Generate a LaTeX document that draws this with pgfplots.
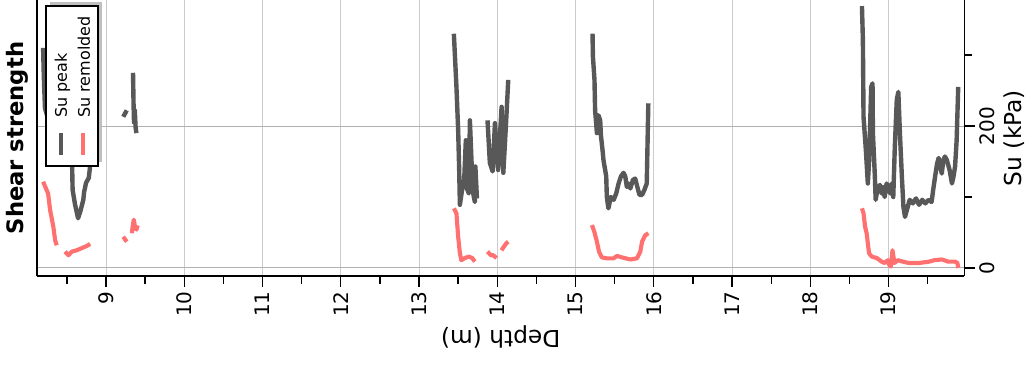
\documentclass[border=0pt]{standalone}
\usepackage{pgfplots}
\pgfplotsset{compat=1.18}
\usepackage{fontspec}
\setmainfont{DejaVu Sans}
\definecolor{peak}{RGB}{88,88,88}
\definecolor{remold}{RGB}{255,112,112}
\definecolor{hgrid}{RGB}{176,176,176}
\definecolor{vgrid}{RGB}{204,204,204}
\begin{document}
\begin{tikzpicture}
\begin{axis}[
  name=ax,
  scale only axis,
  width=695.6pt, height=207pt,
  xmin=8.118, xmax=19.97,
  ymin=-11.3, ymax=377.5,
  axis x line*=bottom, axis y line*=right,
  axis line style={line width=1.1pt, black},
  xtick={9,10,...,19},
  minor xtick={8.5,9.5,...,19.5},
  ytick={0,200},
  minor ytick={100,300},
  tick align=outside,
  major tick length=8pt, minor tick length=6pt,
  every tick/.style={black, line width=1pt},
  xmajorgrids, ymajorgrids,
  x grid style={vgrid, line width=0.75pt},
  y grid style={hgrid, line width=0.75pt},
  /pgf/number format/assume math mode=true,
  ticklabel style={font=\fontsize{15}{18}\selectfont},
  xticklabel style={rotate=90, anchor=east},
  yticklabel style={rotate=90, anchor=north},
  xlabel={Depth (m)}, ylabel={Su (kPa)},
  label style={font=\fontsize{17.5}{20}\selectfont},
  xlabel style={rotate=180},
  unbounded coords=jump,
]
\addplot[peak, line width=3.3pt, line join=round] coordinates {
(8.196,310) (8.205,270) (8.22,225) (8.30,195) (8.42,165) (8.54,148) (8.567,144) (8.573,110) (8.605,89) (8.643,70) (8.67,79) (8.71,96) (8.72,107) (8.745,120) (8.78,127) (8.797,144) (8.81,170)
(9.0,nan)
(9.22,213) (9.265,222)
(9.3,nan)
(9.345,275) (9.352,230) (9.358,205) (9.368,222) (9.378,198) (9.388,190)
(10,nan)
(13.445,330) (13.478,255) (13.50,194) (13.513,138) (13.522,89) (13.55,110) (13.577,124) (13.598,180) (13.605,114) (13.636,105) (13.65,208) (13.67,152) (13.692,105) (13.713,93) (13.72,143) (13.74,98)
(13.8,nan)
(13.875,208) (13.905,148) (13.94,136) (13.97,204) (14.01,138) (14.055,227) (14.077,134) (14.11,200) (14.14,265)
(14.5,nan)
(15.217,330) (15.222,298) (15.242,265) (15.25,222) (15.273,190) (15.294,215) (15.315,208) (15.324,187) (15.345,166) (15.357,152) (15.392,129) (15.40,100) (15.42,84) (15.45,100) (15.487,96) (15.52,105) (15.55,119) (15.58,129) (15.613,134) (15.635,129) (15.656,114) (15.677,119) (15.70,112) (15.733,124) (15.762,126) (15.79,114) (15.817,103) (15.85,103) (15.88,110) (15.91,119) (15.93,232)
(17,nan)
(18.66,369) (18.672,321) (18.68,213) (18.71,166) (18.735,119) (18.752,152) (18.778,255) (18.795,260) (18.80,190) (18.825,129) (18.835,96) (18.86,112) (18.89,117) (18.91,105) (18.93,114) (18.95,100) (18.975,119) (19.0,114) (19.02,105) (19.04,119) (19.06,100) (19.08,171) (19.105,237) (19.125,248) (19.145,190) (19.17,129) (19.19,86) (19.21,72) (19.27,96) (19.31,91) (19.35,98) (19.39,89) (19.43,96) (19.47,91) (19.51,96) (19.55,93) (19.57,110) (19.595,129) (19.62,147) (19.64,155) (19.66,143) (19.68,133) (19.70,152) (19.72,157) (19.745,152) (19.78,138) (19.81,119) (19.83,129) (19.85,143) (19.87,180) (19.89,255)
};
\addplot[remold, line width=3.1pt, line join=round] coordinates {
(8.196,121.5) (8.26,105) (8.285,82) (8.327,58) (8.35,39) (8.37,32)
(8.42,nan)
(8.477,23) (8.52,18) (8.563,23) (8.627,25) (8.69,28) (8.755,31) (8.797,34)
(9.0,nan)
(9.22,44) (9.245,40) (9.265,37)
(9.3,nan)
(9.33,49) (9.345,62) (9.355,68) (9.37,58) (9.39,54) (9.405,60)
(10,nan)
(13.445,84) (13.478,77) (13.50,44) (13.522,21) (13.54,11) (13.585,14) (13.636,16) (13.68,14) (13.713,9)
(13.8,nan)
(13.875,23) (13.918,18) (13.947,18) (13.99,14)
(14.02,nan)
(14.053,25) (14.084,30) (14.117,35) (14.14,37)
(14.5,nan)
(15.21,60.5) (15.24,51) (15.273,37) (15.30,23) (15.335,15) (15.40,13.6) (15.487,13.6) (15.53,17) (15.59,15) (15.70,12) (15.785,13.6) (15.827,23) (15.85,37) (15.89,46) (15.93,49)
(17,nan)
(18.66,84) (18.68,77) (18.70,58) (18.72,49) (18.735,35) (18.75,21) (18.785,16) (18.85,14) (18.91,9) (18.95,7) (18.99,11) (19.01,4) (19.03,2) (19.05,25) (19.075,7) (19.12,11) (19.18,9) (19.26,7) (19.39,7) (19.52,9) (19.585,11) (19.68,12) (19.76,9) (19.85,9) (19.88,7) (19.89,0)
};
\end{axis}
\draw[line width=1.1pt, black] (ax.south west) -- (ax.north west);
% legend (rotated, drawn as in the reference)
\fill[black!25] (9.75pt,85.5pt) rectangle (48.75pt,205.5pt);
\filldraw[fill=white, draw=black, line width=1.1pt] (6.75pt,82.5pt) rectangle (45.75pt,202.5pt);
\draw[peak, line width=3.3pt] (18pt,90.75pt) -- (18pt,107.25pt);
\draw[remold, line width=3.1pt] (34.5pt,90.75pt) -- (34.5pt,107.25pt);
\node[rotate=90, anchor=west, inner sep=0pt, font=\fontsize{12}{14}\selectfont] at (19.1pt,118.5pt) {Su peak};
\node[rotate=90, anchor=west, inner sep=0pt, font=\fontsize{12}{14}\selectfont] at (35.25pt,118.5pt) {Su remolded};
\node[rotate=90, font=\fontsize{17}{20}\selectfont\bfseries] at (-15pt,103.5pt) {Shear strength};
\pgfresetboundingbox
\useasboundingbox (-27.75pt,-66.75pt) rectangle (744pt,207pt);
\end{tikzpicture}
\end{document}
